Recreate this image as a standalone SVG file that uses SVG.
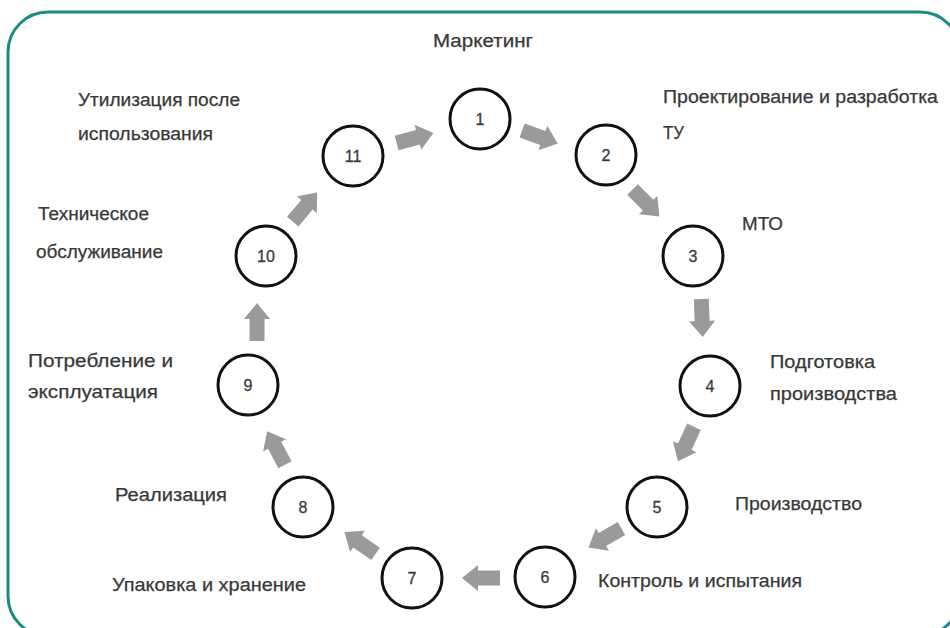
<svg xmlns="http://www.w3.org/2000/svg" width="950" height="628" viewBox="0 0 950 628">
<style>
.lbl{font-family:"Liberation Sans",Arial,sans-serif;font-size:18px;fill:#383838;stroke:#383838;stroke-width:0.25}
.num{font-family:"Liberation Sans",Arial,sans-serif;font-size:16px;fill:#3a3a3a;text-anchor:middle;stroke:#3a3a3a;stroke-width:0.3}
.c{fill:#fff;stroke:#111;stroke-width:3}
.arr{fill:#9a9a9a}
</style>
<defs>
<path id="ar" d="M-19,-7.5 H3 V-13 L19,0 L3,13 V7.5 H-19 Z"/>
</defs>
<rect x="0" y="0" width="950" height="628" fill="#fff"/>
<rect x="8" y="12" width="952" height="624" rx="40" ry="40" fill="none" stroke="#1b8a80" stroke-width="3"/>
<g id="connectors" class="arr">
<use href="#ar" transform="translate(415,138) rotate(-15)"/>
<use href="#ar" transform="translate(540,137) rotate(20)"/>
<use href="#ar" transform="translate(646,203) rotate(45)"/>
<use href="#ar" transform="translate(702,318) rotate(88)"/>
<use href="#ar" transform="translate(686,444) rotate(115)"/>
<use href="#ar" transform="translate(605,538) rotate(150)"/>
<use href="#ar" transform="translate(481,578) rotate(180)"/>
<use href="#ar" transform="translate(360,543) rotate(-145)"/>
<use href="#ar" transform="translate(276,448) rotate(-118)"/>
<use href="#ar" transform="translate(257,322) rotate(-90)"/>
<use href="#ar" transform="translate(305,207) rotate(-50)"/>
</g>
<g id="node1">
<circle class="c" cx="480" cy="119" r="30"/>
<text class="num" x="480" y="125">1</text>
<text class="lbl" x="433" y="47" textLength="100" lengthAdjust="spacingAndGlyphs">Маркетинг</text>
</g>
<g id="node2">
<circle class="c" cx="606" cy="155" r="30"/>
<text class="num" x="606" y="161">2</text>
<text class="lbl" x="663" y="103" textLength="275" lengthAdjust="spacingAndGlyphs">Проектирование и разработка</text>
<text class="lbl" x="663" y="139" textLength="21" lengthAdjust="spacingAndGlyphs">ТУ</text>
</g>
<g id="node3">
<circle class="c" cx="693" cy="256" r="30"/>
<text class="num" x="693" y="262">3</text>
<text class="lbl" x="742" y="230" textLength="41" lengthAdjust="spacingAndGlyphs">МТО</text>
</g>
<g id="node4">
<circle class="c" cx="710" cy="386" r="30"/>
<text class="num" x="710" y="392">4</text>
<text class="lbl" x="770" y="368" textLength="105" lengthAdjust="spacingAndGlyphs">Подготовка</text>
<text class="lbl" x="770" y="400" textLength="127" lengthAdjust="spacingAndGlyphs">производства</text>
</g>
<g id="node5">
<circle class="c" cx="657" cy="507" r="30"/>
<text class="num" x="657" y="513">5</text>
<text class="lbl" x="735" y="510" textLength="127" lengthAdjust="spacingAndGlyphs">Производство</text>
</g>
<g id="node6">
<circle class="c" cx="545" cy="577" r="30"/>
<text class="num" x="545" y="583">6</text>
<text class="lbl" x="598" y="587" textLength="204" lengthAdjust="spacingAndGlyphs">Контроль и испытания</text>
</g>
<g id="node7">
<circle class="c" cx="412" cy="578" r="30"/>
<text class="num" x="412" y="584">7</text>
<text class="lbl" x="112" y="591" textLength="194" lengthAdjust="spacingAndGlyphs">Упаковка и хранение</text>
</g>
<g id="node8">
<circle class="c" cx="303" cy="507" r="30"/>
<text class="num" x="303" y="513">8</text>
<text class="lbl" x="115" y="501" textLength="112" lengthAdjust="spacingAndGlyphs">Реализация</text>
</g>
<g id="node9">
<circle class="c" cx="248" cy="385" r="30"/>
<text class="num" x="248" y="391">9</text>
<text class="lbl" x="28" y="367" textLength="145" lengthAdjust="spacingAndGlyphs">Потребление и</text>
<text class="lbl" x="28" y="398" textLength="130" lengthAdjust="spacingAndGlyphs">эксплуатация</text>
</g>
<g id="node10">
<circle class="c" cx="266" cy="256" r="30"/>
<text class="num" x="266" y="262">10</text>
<text class="lbl" x="38" y="220" textLength="111" lengthAdjust="spacingAndGlyphs">Техническое</text>
<text class="lbl" x="36" y="258" textLength="127" lengthAdjust="spacingAndGlyphs">обслуживание</text>
</g>
<g id="node11">
<circle class="c" cx="353" cy="156" r="30"/>
<text class="num" x="353" y="162">11</text>
<text class="lbl" x="78" y="106" textLength="162" lengthAdjust="spacingAndGlyphs">Утилизация после</text>
<text class="lbl" x="78" y="140" textLength="135" lengthAdjust="spacingAndGlyphs">использования</text>
</g>
</svg>
